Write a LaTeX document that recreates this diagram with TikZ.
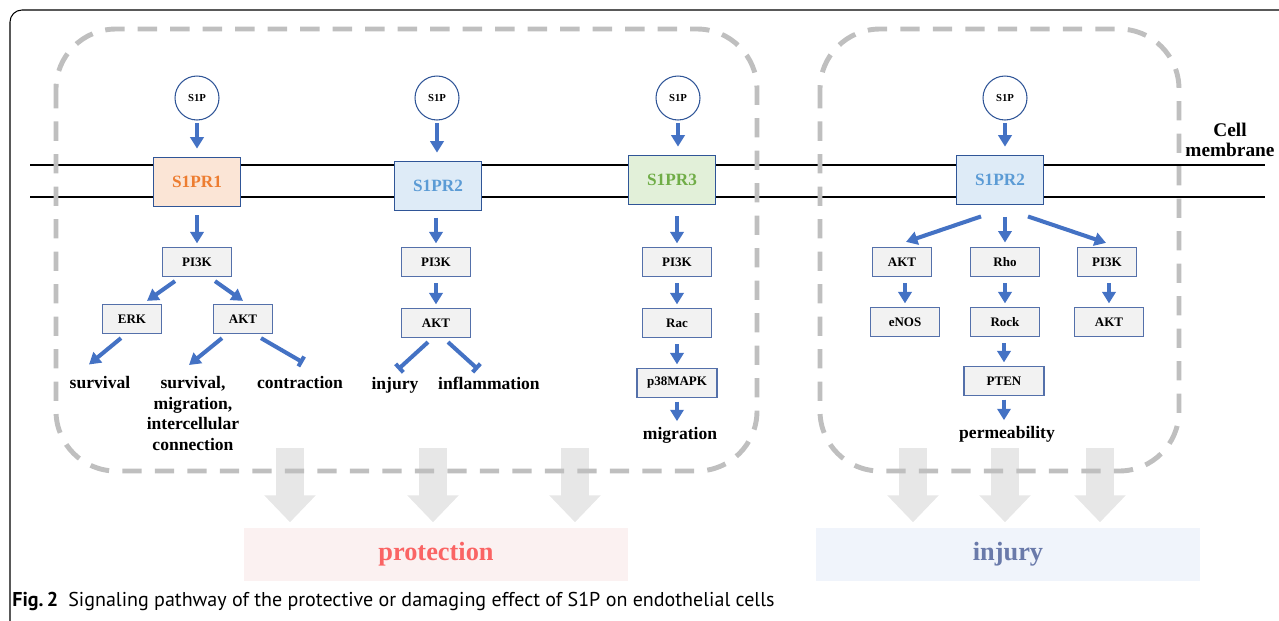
\documentclass[tikz,border=0pt]{standalone}
\usepackage{fontspec}
\setmainfont{Liberation Serif}
\newfontfamily\capfont{PT Sans}
\usetikzlibrary{arrows.meta,calc}

\definecolor{arrowblue}{RGB}{68,114,196}
\definecolor{rcpborder}{RGB}{47,85,151}
\definecolor{molborder}{RGB}{84,112,170}
\definecolor{molfill}{RGB}{242,242,242}
\definecolor{dashgray}{RGB}{191,191,191}
\definecolor{biggray}{RGB}{231,231,231}
\definecolor{oneorange}{RGB}{237,125,49}
\definecolor{onefill}{RGB}{251,229,214}
\definecolor{twoblue}{RGB}{91,155,213}
\definecolor{twofill}{RGB}{222,235,247}
\definecolor{threegreen}{RGB}{112,173,71}
\definecolor{threefill}{RGB}{226,240,217}
\definecolor{protred}{RGB}{250,100,100}
\definecolor{protfill}{RGB}{251,241,241}
\definecolor{injblue}{RGB}{106,122,170}
\definecolor{injfill}{RGB}{240,244,251}

\tikzset{
  ligand/.style={circle, draw=rcpborder, line width=0.6pt, minimum size=0.88cm, inner sep=0pt, font=\fontsize{6.1}{7}\selectfont\bfseries},
  receptor/.style={draw=rcpborder, line width=1.1pt, minimum width=1.74cm, minimum height=0.98cm, inner sep=0pt, font=\fontsize{9.8}{11}\selectfont\bfseries},
  mol/.style={draw=molborder, fill=molfill, line width=0.7pt, minimum width=1.38cm, minimum height=0.58cm, inner sep=0pt, font=\fontsize{7.4}{9}\selectfont\bfseries},
  molS/.style={mol, minimum width=1.18cm},
  molL/.style={mol, minimum width=1.6cm},
  outcome/.style={inner sep=0pt, font=\fontsize{10}{11.7}\selectfont\bfseries},
  act/.style={arrowblue, line width=2.3pt, shorten <=3.5pt, shorten >=2pt, -{Triangle[width=7.5pt,length=6.5pt]}},
  inh/.style={arrowblue, line width=2.3pt, -{Bar[width=6.5pt,line width=2.3pt]}},
  bigarrow/.style={biggray, line width=16pt, shorten >=2.8pt, -{Triangle[width=1cm,length=0.54cm]}},
  region/.style={dashgray, line width=2.8pt, dash pattern=on 11pt off 7.5pt, rounded corners=1.2cm},
  effect/.style={minimum width=7.7cm, minimum height=1.06cm, inner sep=0pt, font=\fontsize{15}{18}\selectfont\bfseries},
}

\begin{document}
\begin{tikzpicture}[x=0.02cm, y=-0.02cm]
  \useasboundingbox (0,0) rectangle (1279,620);

  % Marco
  \draw[line width=0.6pt, rounded corners=0.24cm] (10,630) -- (10,10) -- (1290,10);

  % Efectos y flechas grandes
  \node[effect, fill=protfill, text=protred] (prot) at (436,554) {protection};
  \node[effect, fill=injfill, text=injblue] (inj) at (1008,554) {injury};
  \foreach \x/\tgt [count=\i] in {290/prot, 433/prot, 575/prot, 913/inj, 1005/inj, 1100/inj} {
    \coordinate (g\i) at (\x,448);
    \draw[bigarrow] (g\i) -- (g\i |- \tgt.north);
  }

  % Membrana celular
  \draw[line width=1.4pt] (30,165) -- (1265,165);
  \draw[line width=1.4pt] (30,197) -- (1265,197);
  \node[outcome, font=\fontsize{11}{11.3}\selectfont\bfseries, align=center, anchor=south] (memb) at (1230,157) {Cell\\membrane};

  % Regiones
  \draw[region] (56,29) rectangle (757,471);
  \draw[region] (820,29) rectangle (1179,471);

  % S1P
  \foreach \n/\x in {l1/197, l2/437, l3/678, l4/1005}
    \node[ligand] (\n) at (\x,98) {S1P};

  % Receptores
  \node[receptor, fill=onefill, text=oneorange] (r1) at (197,182) {S1PR1};
  \node[receptor, fill=twofill, text=twoblue] (r2) at (438,186) {S1PR2};
  \node[receptor, fill=threefill, text=threegreen] (r3) at (672,180) {S1PR3};
  \node[receptor, fill=twofill, text=twoblue] (r4) at (1000,180) {S1PR2};
  \foreach \i in {1,...,4}
    \draw[act, shorten <=1.5pt, shorten >=4.5pt] (l\i.south) -- (l\i.south |- r\i.north);

  % S1PR1
  \node[mol] (p1) at (197,262) {PI3K};
  \node[molS] (erk) at (132,319) {ERK};
  \node[molS] (akt1) at (243,319) {AKT};
  \node[outcome, anchor=base] (sv1) at (100,388) {survival};
  \node[outcome, anchor=north, align=center] (sv2) at (193,376) {survival,\\migration,\\intercellular\\connection};
  \node[outcome, anchor=base] (con) at (300,388) {contraction};
  \draw[act, shorten <=4.5pt] (r1) -- (p1);
  \draw[act, shorten <=0pt, shorten >=0pt] ($(p1.south)+(-22,4)$) -- ($(erk.north)+(15,-3)$);
  \draw[act, shorten <=0pt, shorten >=0pt] ($(p1.south)+(18,4)$) -- ($(akt1.north)+(0,-3)$);
  \draw[act, shorten <=0pt, shorten >=0pt] ($(erk.south)+(-11,4)$) -- ($(sv1.north)+(-11,-11)$);
  \draw[act, shorten <=0pt, shorten >=0pt] ($(akt1.south)+(-21,4)$) -- ($(sv2.north)+(-4,-11)$);
  \draw[inh] ($(akt1.south)+(18,4)$) -- ($(con.north)+(3,-13)$);

  % S1PR2 (izquierda)
  \node[mol] (p2) at (436,262) {PI3K};
  \node[mol] (akt2) at (436,323) {AKT};
  \node[outcome, anchor=base] (inj1) at (395,389) {injury};
  \node[outcome, anchor=base] (infl) at (489,389) {inflammation};
  \draw[act] (r2.south -| p2) -- (p2);
  \draw[act] (p2) -- (akt2);
  \draw[inh] ($(akt2.south)+(-8,4)$) -- ($(inj1.north)+(3,-7)$);
  \draw[inh] ($(akt2.south)+(12,4)$) -- ($(infl.north)+(-11,-7)$);

  % S1PR3
  \node[mol] (p3) at (677,262) {PI3K};
  \node[mol] (rac) at (677,323) {Rac};
  \node[molL] (mapk) at (677,383) {p38MAPK};
  \node[outcome, anchor=base] (mig) at (680,439) {migration};
  \draw[act, shorten <=6pt] (r3.south -| p3) -- (p3);
  \draw[act] (p3) -- (rac);
  \draw[act] (rac) -- (mapk);
  \draw[act, shorten <=2pt, shorten >=3pt] (mapk.south) -- (mapk.south |- mig.north);

  % S1PR2 (derecha)
  \node[molS] (ak4) at (902,262) {AKT};
  \node[mol] (rho) at (1005,262) {Rho};
  \node[molS] (pi4) at (1107,262) {PI3K};
  \node[mol] (enos) at (905,322) {eNOS};
  \node[mol] (rock) at (1005,322) {Rock};
  \node[mol] (ak5) at (1109,322) {AKT};
  \node[molL] (pten) at (1004,381) {PTEN};
  \node[outcome, anchor=base] (perm) at (1007,438) {permeability};
  \draw[act, shorten <=0pt, shorten >=0pt] ($(r4.south)+(-19,11)$) -- ($(ak4.north)+(4,-5)$);
  \draw[act, shorten <=6.5pt, shorten >=2.5pt] (r4.south -| rho) -- (rho);
  \draw[act, shorten <=0pt, shorten >=0pt] ($(r4.south)+(28,11)$) -- ($(pi4.north)+(-1,-4)$);
  \draw[act] (ak4.south -| enos) -- (enos);
  \draw[act] (rho) -- (rock);
  \draw[act] (pi4.south -| ak5) -- (ak5);
  \draw[act] (rock.south -| pten) -- (pten);
  \draw[act, shorten <=2pt, shorten >=3pt] (pten.south) -- (pten.south |- perm.north);

  % Leyenda
  \node[anchor=base west, inner sep=0pt, font=\capfont\fontsize{11.4}{13}\selectfont] (cap) at (12,606)
    {\textbf{Fig.\,2}\enspace Signaling pathway of the protective or damaging effect of S1P on endothelial cells};
\end{tikzpicture}
\end{document}
